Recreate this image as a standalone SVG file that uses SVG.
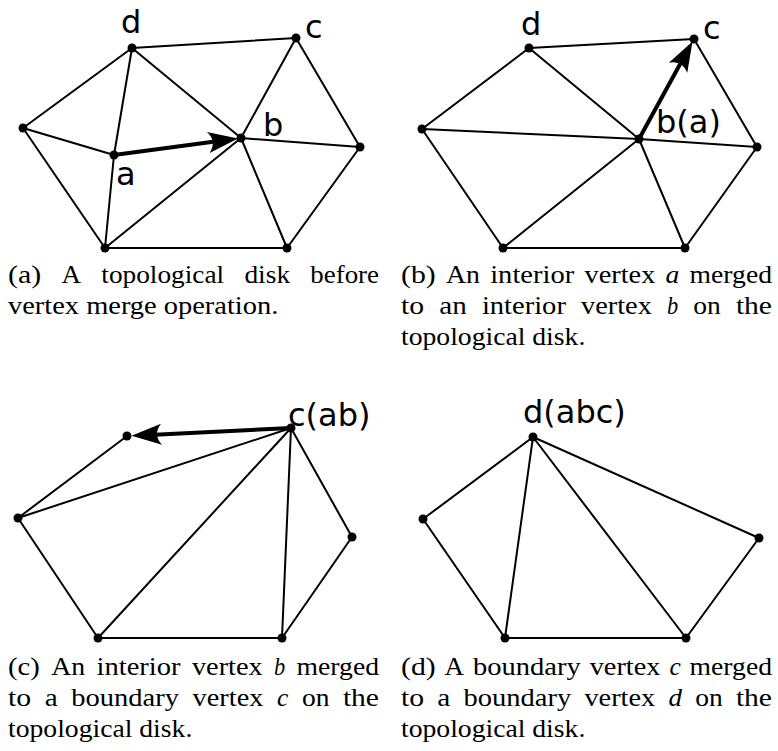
<svg xmlns="http://www.w3.org/2000/svg" width="778" height="751" viewBox="0 0 778 751">
<defs>
<style>
.e{stroke:#000;stroke-width:2;fill:none;stroke-linecap:round}
.ar{stroke:#000;stroke-width:4;fill:none;marker-end:url(#ah)}
.v{fill:#000}
.lb{font-family:"DejaVu Sans",sans-serif;font-size:32px;fill:#000}
.cp{font-family:"Liberation Serif","Times New Roman",serif;font-size:26px;fill:#000}
.it{font-style:italic}
</style>
<marker id="ah" markerUnits="userSpaceOnUse" orient="auto" markerWidth="40" markerHeight="30" viewBox="-25 -15 40 30" refX="0" refY="0" overflow="visible">
<path d="M8,0 L-22,-10.5 Q-13,0 -22,10.5 Z" fill="#000"/>
</marker>
</defs>
<rect width="778" height="751" fill="#fff"/>

<g id="connectors">
<!-- panel a -->
<line class="e" x1="132" y1="48" x2="296" y2="38"/>
<line class="e" x1="132" y1="48" x2="23" y2="128"/>
<line class="e" x1="132" y1="48" x2="114" y2="155"/>
<line class="e" x1="132" y1="48" x2="241" y2="138"/>
<line class="e" x1="296" y1="38" x2="241" y2="138"/>
<line class="e" x1="296" y1="38" x2="360" y2="147"/>
<line class="e" x1="23" y1="128" x2="114" y2="155"/>
<line class="e" x1="23" y1="128" x2="105" y2="248"/>
<line class="e" x1="114" y1="155" x2="105" y2="248"/>
<line class="e" x1="105" y1="248" x2="241" y2="138"/>
<line class="e" x1="105" y1="248" x2="287" y2="248"/>
<line class="e" x1="241" y1="138" x2="287" y2="248"/>
<line class="e" x1="241" y1="138" x2="360" y2="147"/>
<line class="e" x1="360" y1="147" x2="287" y2="248"/>
<line class="ar" x1="114" y1="155" x2="230.1" y2="139.6"/>
<!-- panel b -->
<line class="e" x1="529" y1="48" x2="694" y2="39"/>
<line class="e" x1="529" y1="48" x2="422" y2="129"/>
<line class="e" x1="529" y1="48" x2="639" y2="139"/>
<line class="e" x1="694" y1="39" x2="757" y2="147"/>
<line class="e" x1="422" y1="129" x2="639" y2="139"/>
<line class="e" x1="422" y1="129" x2="503" y2="248"/>
<line class="e" x1="503" y1="248" x2="639" y2="139"/>
<line class="e" x1="503" y1="248" x2="685" y2="248"/>
<line class="e" x1="639" y1="139" x2="685" y2="248"/>
<line class="e" x1="639" y1="139" x2="757" y2="147"/>
<line class="e" x1="757" y1="147" x2="685" y2="248"/>
<line class="ar" x1="639" y1="139" x2="688.65" y2="48.5"/>
<!-- panel c -->
<line class="e" x1="127" y1="436" x2="18" y2="518"/>
<line class="e" x1="18" y1="518" x2="291" y2="428"/>
<line class="e" x1="18" y1="518" x2="98" y2="638"/>
<line class="e" x1="291" y1="428" x2="98" y2="638"/>
<line class="e" x1="291" y1="428" x2="282" y2="638"/>
<line class="e" x1="291" y1="428" x2="352" y2="537"/>
<line class="e" x1="352" y1="537" x2="282" y2="638"/>
<line class="e" x1="98" y1="638" x2="282" y2="638"/>
<line class="ar" x1="291" y1="428" x2="139.5" y2="435.4"/>
<!-- panel d -->
<line class="e" x1="533" y1="437" x2="423" y2="519"/>
<line class="e" x1="533" y1="437" x2="505" y2="638"/>
<line class="e" x1="533" y1="437" x2="686" y2="638"/>
<line class="e" x1="533" y1="437" x2="759" y2="538"/>
<line class="e" x1="423" y1="519" x2="505" y2="638"/>
<line class="e" x1="759" y1="538" x2="686" y2="638"/>
<line class="e" x1="505" y1="638" x2="686" y2="638"/>
</g>

<!-- panel a nodes -->
<g id="a-d"><circle class="v" cx="132" cy="48" r="4.5"/><text class="lb" x="121" y="33">d</text></g>
<g id="a-c"><circle class="v" cx="296" cy="38" r="4.5"/><text class="lb" x="305" y="38">c</text></g>
<g id="a-l"><circle class="v" cx="23" cy="128" r="4.5"/></g>
<g id="a-a"><circle class="v" cx="114" cy="155" r="4.5"/><text class="lb" x="116" y="185">a</text></g>
<g id="a-b"><circle class="v" cx="241" cy="138" r="4.5"/><text class="lb" x="263" y="136">b</text></g>
<g id="a-r"><circle class="v" cx="360" cy="147" r="4.5"/></g>
<g id="a-bl"><circle class="v" cx="105" cy="248" r="4.5"/></g>
<g id="a-br"><circle class="v" cx="287" cy="248" r="4.5"/></g>

<!-- panel b nodes -->
<g id="b-d"><circle class="v" cx="529" cy="48" r="4.5"/><text class="lb" x="521" y="35">d</text></g>
<g id="b-c"><circle class="v" cx="694" cy="39" r="4.5"/><text class="lb" x="703" y="39">c</text></g>
<g id="b-l"><circle class="v" cx="422" cy="129" r="4.5"/></g>
<g id="b-b"><circle class="v" cx="639" cy="139" r="4.5"/><text class="lb" x="656" y="133">b(a)</text></g>
<g id="b-r"><circle class="v" cx="757" cy="147" r="4.5"/></g>
<g id="b-bl"><circle class="v" cx="503" cy="248" r="4.5"/></g>
<g id="b-br"><circle class="v" cx="685" cy="248" r="4.5"/></g>

<!-- panel c nodes -->
<g id="c-c"><circle class="v" cx="291" cy="428" r="4.5"/><text class="lb" x="288" y="426">c(ab)</text></g>
<g id="c-p"><circle class="v" cx="127" cy="436" r="4.5"/></g>
<g id="c-l"><circle class="v" cx="18" cy="518" r="4.5"/></g>
<g id="c-r"><circle class="v" cx="352" cy="537" r="4.5"/></g>
<g id="c-bl"><circle class="v" cx="98" cy="638" r="4.5"/></g>
<g id="c-br"><circle class="v" cx="282" cy="638" r="4.5"/></g>

<!-- panel d nodes -->
<g id="d-d"><circle class="v" cx="533" cy="437" r="4.5"/><text class="lb" x="523" y="423">d(abc)</text></g>
<g id="d-l"><circle class="v" cx="423" cy="519" r="4.5"/></g>
<g id="d-r"><circle class="v" cx="759" cy="538" r="4.5"/></g>
<g id="d-bl"><circle class="v" cx="505" cy="638" r="4.5"/></g>
<g id="d-br"><circle class="v" cx="686" cy="638" r="4.5"/></g>

<g id="captions">
<!-- (a) -->
<text class="cp" x="8" y="283" textLength="33.2" lengthAdjust="spacingAndGlyphs">(a)</text>
<text class="cp" x="61.5" y="283" textLength="19.5" lengthAdjust="spacingAndGlyphs">A</text>
<text class="cp" x="101.3" y="283" textLength="122.8" lengthAdjust="spacingAndGlyphs">topological</text>
<text class="cp" x="244.4" y="283" textLength="45.7" lengthAdjust="spacingAndGlyphs">disk</text>
<text class="cp" x="310.3" y="283" textLength="68.7" lengthAdjust="spacingAndGlyphs">before</text>
<text class="cp" x="8" y="314" textLength="270.3" lengthAdjust="spacingAndGlyphs">vertex merge operation.</text>
<!-- (b) -->
<text class="cp" x="401" y="283" textLength="34.7" lengthAdjust="spacingAndGlyphs">(b)</text>
<text class="cp" x="446" y="283" textLength="34" lengthAdjust="spacingAndGlyphs">An</text>
<text class="cp" x="490.2" y="283" textLength="84" lengthAdjust="spacingAndGlyphs">interior</text>
<text class="cp" x="584.5" y="283" textLength="70.8" lengthAdjust="spacingAndGlyphs">vertex</text>
<text class="cp it" x="665.6" y="283" textLength="13.8" lengthAdjust="spacingAndGlyphs">a</text>
<text class="cp" x="689.6" y="283" textLength="82.4" lengthAdjust="spacingAndGlyphs">merged</text>
<text class="cp" x="401" y="314" textLength="23.1" lengthAdjust="spacingAndGlyphs">to</text>
<text class="cp" x="439.3" y="314" textLength="27.5" lengthAdjust="spacingAndGlyphs">an</text>
<text class="cp" x="481.9" y="314" textLength="84" lengthAdjust="spacingAndGlyphs">interior</text>
<text class="cp" x="581" y="314" textLength="70.8" lengthAdjust="spacingAndGlyphs">vertex</text>
<text class="cp it" x="667" y="314" textLength="11.2" lengthAdjust="spacingAndGlyphs">b</text>
<text class="cp" x="693.3" y="314" textLength="27.5" lengthAdjust="spacingAndGlyphs">on</text>
<text class="cp" x="735.9" y="314" textLength="36.1" lengthAdjust="spacingAndGlyphs">the</text>
<text class="cp" x="401" y="345" textLength="184.3" lengthAdjust="spacingAndGlyphs">topological disk.</text>
<!-- (c) -->
<text class="cp" x="8" y="675" textLength="31.8" lengthAdjust="spacingAndGlyphs">(c)</text>
<text class="cp" x="51.2" y="675" textLength="34" lengthAdjust="spacingAndGlyphs">An</text>
<text class="cp" x="96.5" y="675" textLength="84" lengthAdjust="spacingAndGlyphs">interior</text>
<text class="cp" x="191.9" y="675" textLength="70.8" lengthAdjust="spacingAndGlyphs">vertex</text>
<text class="cp it" x="274.1" y="675" textLength="11.2" lengthAdjust="spacingAndGlyphs">b</text>
<text class="cp" x="296.6" y="675" textLength="82.4" lengthAdjust="spacingAndGlyphs">merged</text>
<text class="cp" x="8" y="706" textLength="23.1" lengthAdjust="spacingAndGlyphs">to</text>
<text class="cp" x="44.7" y="706" textLength="13" lengthAdjust="spacingAndGlyphs">a</text>
<text class="cp" x="71.3" y="706" textLength="107.7" lengthAdjust="spacingAndGlyphs">boundary</text>
<text class="cp" x="192.6" y="706" textLength="70.8" lengthAdjust="spacingAndGlyphs">vertex</text>
<text class="cp it" x="277" y="706" textLength="11.3" lengthAdjust="spacingAndGlyphs">c</text>
<text class="cp" x="301.9" y="706" textLength="27.5" lengthAdjust="spacingAndGlyphs">on</text>
<text class="cp" x="342.9" y="706" textLength="36.1" lengthAdjust="spacingAndGlyphs">the</text>
<text class="cp" x="8" y="737" textLength="184.3" lengthAdjust="spacingAndGlyphs">topological disk.</text>
<!-- (d) -->
<text class="cp" x="401" y="675" textLength="34.7" lengthAdjust="spacingAndGlyphs">(d)</text>
<text class="cp" x="444.6" y="675" textLength="19.5" lengthAdjust="spacingAndGlyphs">A</text>
<text class="cp" x="473" y="675" textLength="107.7" lengthAdjust="spacingAndGlyphs">boundary</text>
<text class="cp" x="589.7" y="675" textLength="70.8" lengthAdjust="spacingAndGlyphs">vertex</text>
<text class="cp it" x="669.5" y="675" textLength="11.3" lengthAdjust="spacingAndGlyphs">c</text>
<text class="cp" x="689.6" y="675" textLength="82.4" lengthAdjust="spacingAndGlyphs">merged</text>
<text class="cp" x="401" y="706" textLength="23.1" lengthAdjust="spacingAndGlyphs">to</text>
<text class="cp" x="437.3" y="706" textLength="13" lengthAdjust="spacingAndGlyphs">a</text>
<text class="cp" x="463.5" y="706" textLength="107.7" lengthAdjust="spacingAndGlyphs">boundary</text>
<text class="cp" x="584.4" y="706" textLength="70.8" lengthAdjust="spacingAndGlyphs">vertex</text>
<text class="cp it" x="668.5" y="706" textLength="13.5" lengthAdjust="spacingAndGlyphs">d</text>
<text class="cp" x="695.2" y="706" textLength="27.5" lengthAdjust="spacingAndGlyphs">on</text>
<text class="cp" x="735.9" y="706" textLength="36.1" lengthAdjust="spacingAndGlyphs">the</text>
<text class="cp" x="401" y="737" textLength="184.3" lengthAdjust="spacingAndGlyphs">topological disk.</text>
</g>
</svg>
